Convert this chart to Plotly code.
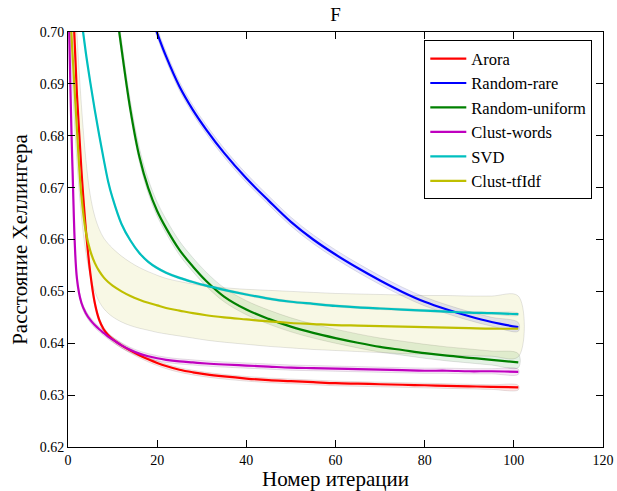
import plotly.graph_objects as go

# ---- data ----
iters = [0, 1, 2, 3, 4, 5, 6, 7, 8, 9, 10, 12, 14, 16, 18, 20, 22, 25, 28, 31, 35,
         40, 45, 50, 55, 60, 65, 70, 75, 80, 85, 90, 95, 101]

arora = [0.740, 0.708, 0.688, 0.6735, 0.662, 0.6535, 0.6478, 0.6445, 0.6427, 0.6416, 0.6408, 0.6396,
         0.6386, 0.6377, 0.6369, 0.6362, 0.6356, 0.6349, 0.6344, 0.6340, 0.6336,
         0.6332, 0.6329, 0.6327, 0.6325, 0.6323, 0.6322, 0.6321, 0.6320, 0.6319, 0.6318, 0.6317, 0.6316, 0.6315]
random_rare = [0.7713, 0.7667, 0.7622, 0.7578, 0.7535, 0.7493, 0.7452, 0.7412, 0.7373, 0.7335, 0.7298, 0.7228,
               0.7163, 0.7103, 0.7048, 0.6998, 0.6953, 0.6895, 0.6850, 0.6812, 0.6767,
               0.6718, 0.6675, 0.6634, 0.6600, 0.6571, 0.6545, 0.6521, 0.6499, 0.6480, 0.6465, 0.6452, 0.6441, 0.6431]
random_uniform = [0.7906, 0.7816, 0.7728, 0.7642, 0.7558, 0.7476, 0.7396, 0.7318, 0.7242, 0.7168, 0.7098, 0.6968,
                  0.6850, 0.6760, 0.6699, 0.6655, 0.6622, 0.6580, 0.6548, 0.6520, 0.6490,
                  0.6465, 0.6447, 0.6432, 0.6420, 0.6410, 0.6401, 0.6393, 0.6387, 0.6381, 0.6376, 0.6372, 0.6368, 0.6363]
clust_words = [0.712, 0.674, 0.6525, 0.6478, 0.6458, 0.6445, 0.6435, 0.6427, 0.6420, 0.6413, 0.6407, 0.6396,
               0.6387, 0.6380, 0.6375, 0.6371, 0.6368, 0.6365, 0.6363, 0.6361, 0.6359,
               0.6357, 0.6355, 0.6353, 0.6352, 0.6351, 0.6350, 0.6349, 0.6348, 0.6347, 0.6347, 0.6346, 0.6346, 0.6345]
svd = [0.728, 0.7185, 0.7100, 0.7025, 0.6960, 0.6903, 0.6850, 0.6801, 0.6755, 0.6712, 0.6680, 0.6630,
       0.6598, 0.6574, 0.6557, 0.6545, 0.6536, 0.6526, 0.6518, 0.6511, 0.6503,
       0.6494, 0.6486, 0.6480, 0.6476, 0.6472, 0.6469, 0.6467, 0.6465, 0.6463, 0.6461, 0.6459, 0.6458, 0.6456]
clust_tfidf = [0.712, 0.696, 0.6812, 0.6685, 0.6615, 0.6578, 0.6555, 0.6539, 0.6527, 0.6518, 0.6511, 0.6500,
               0.6491, 0.6484, 0.6478, 0.6473, 0.6468, 0.6463, 0.6458, 0.6454, 0.6450,
               0.6446, 0.6442, 0.6439, 0.6437, 0.6435, 0.6434, 0.6433, 0.6432, 0.6431, 0.6430, 0.6429, 0.6428, 0.6428]

tfidf_upper = [0.740, 0.718, 0.700, 0.686, 0.6755, 0.6685, 0.6645, 0.6620, 0.6603, 0.6592, 0.6583, 0.6568,
               0.6556, 0.6546, 0.6538, 0.6531, 0.6525, 0.6519, 0.6514, 0.6510, 0.6507,
               0.6504, 0.6502, 0.6500, 0.6498, 0.6496, 0.6495, 0.6494, 0.6493, 0.6492, 0.6492, 0.6491, 0.6491, 0.6491]
tfidf_lower = [0.712, 0.690, 0.675, 0.6645, 0.6575, 0.6530, 0.6500, 0.6480, 0.6467, 0.6458, 0.6451, 0.6441,
               0.6434, 0.6429, 0.6425, 0.6421, 0.6418, 0.6414, 0.6410, 0.6406, 0.6402,
               0.6398, 0.6394, 0.6391, 0.6388, 0.6386, 0.6384, 0.6382, 0.6380, 0.6379, 0.6377, 0.6376, 0.6375, 0.6374]

# band extents (above / below the line) for the other series
n = len(iters)
arora_up, arora_dn = [0.0004] * n, [0.0005] * n
rare_up, rare_dn = [0.0009] * n, [0.0008] * n
uniform_up, uniform_dn = [0.0017] * n, [0.0010] * n
words_up, words_dn = [0.0005] * n, [0.0005] * n
svd_up, svd_dn = [0.0002] * n, [0.0002] * n

series = [
    ("Arora", arora, (arora_up, arora_dn), (255, 0, 0)),
    ("Random-rare", random_rare, (rare_up, rare_dn), (0, 0, 255)),
    ("Random-uniform", random_uniform, (uniform_up, uniform_dn), (0, 128, 0)),
    ("Clust-words", clust_words, (words_up, words_dn), (191, 0, 191)),
    ("SVD", svd, (svd_up, svd_dn), (0, 191, 191)),
    ("Clust-tfIdf", clust_tfidf, None, (191, 191, 0)),
]

fig = go.Figure()
SM = 1.0

# shaded bands
for name, vals, spread, (r, g, b) in series:
    if spread is None:
        lo, hi = tfidf_lower, tfidf_upper
    else:
        up, dn = spread
        hi = [v + s for v, s in zip(vals, up)]
        lo = [v - s for v, s in zip(vals, dn)]
    fig.add_trace(go.Scatter(
        x=iters + iters[::-1], y=hi + lo[::-1],
        fill="toself", fillcolor=f"rgba({r},{g},{b},0.1)",
        line=dict(color="rgba(0,0,0,0.1)", width=1, shape="spline", smoothing=SM),
        mode="lines", showlegend=False, hoverinfo="skip"))

# main lines
for name, vals, spread, (r, g, b) in series:
    fig.add_trace(go.Scatter(
        x=iters, y=vals, name=name, mode="lines",
        line=dict(color=f"rgb({r},{g},{b})", width=2.2, shape="spline", smoothing=SM)))

font_family = "Liberation Serif"
axis_common = dict(showgrid=False, zeroline=False, showline=True, linecolor="black",
                   linewidth=1, mirror="allticks", ticks="inside", ticklen=7,
                   tickcolor="black", automargin=False,
                   tickfont=dict(family=font_family, size=14, color="black"))

fig.update_layout(
    width=617, height=491,
    margin=dict(l=68, r=14, t=32, b=44, autoexpand=False),
    paper_bgcolor="white", plot_bgcolor="white",
    title=dict(text="F", xref="paper", x=0.5, xanchor="center", y=0.985, yanchor="top",
               font=dict(family=font_family, size=19, color="black")),
    xaxis=dict(range=[0, 120], dtick=20, tick0=0,
               title=dict(text="Номер итерации", font=dict(family=font_family, size=21, color="black"), standoff=4),
               **axis_common),
    yaxis=dict(range=[0.62, 0.70], dtick=0.01, tick0=0.62, tickformat=".2f",
               title=dict(text="Расстояние Хеллингера", font=dict(family=font_family, size=21, color="black"), standoff=6),
               **axis_common),
    legend=dict(x=0.98, xanchor="right", y=0.98, yanchor="top",
                bordercolor="black", borderwidth=1, bgcolor="white",
                font=dict(family=font_family, size=16.5, color="black"),
                itemwidth=36, tracegroupgap=0),
)

fig.write_html("out.html")
